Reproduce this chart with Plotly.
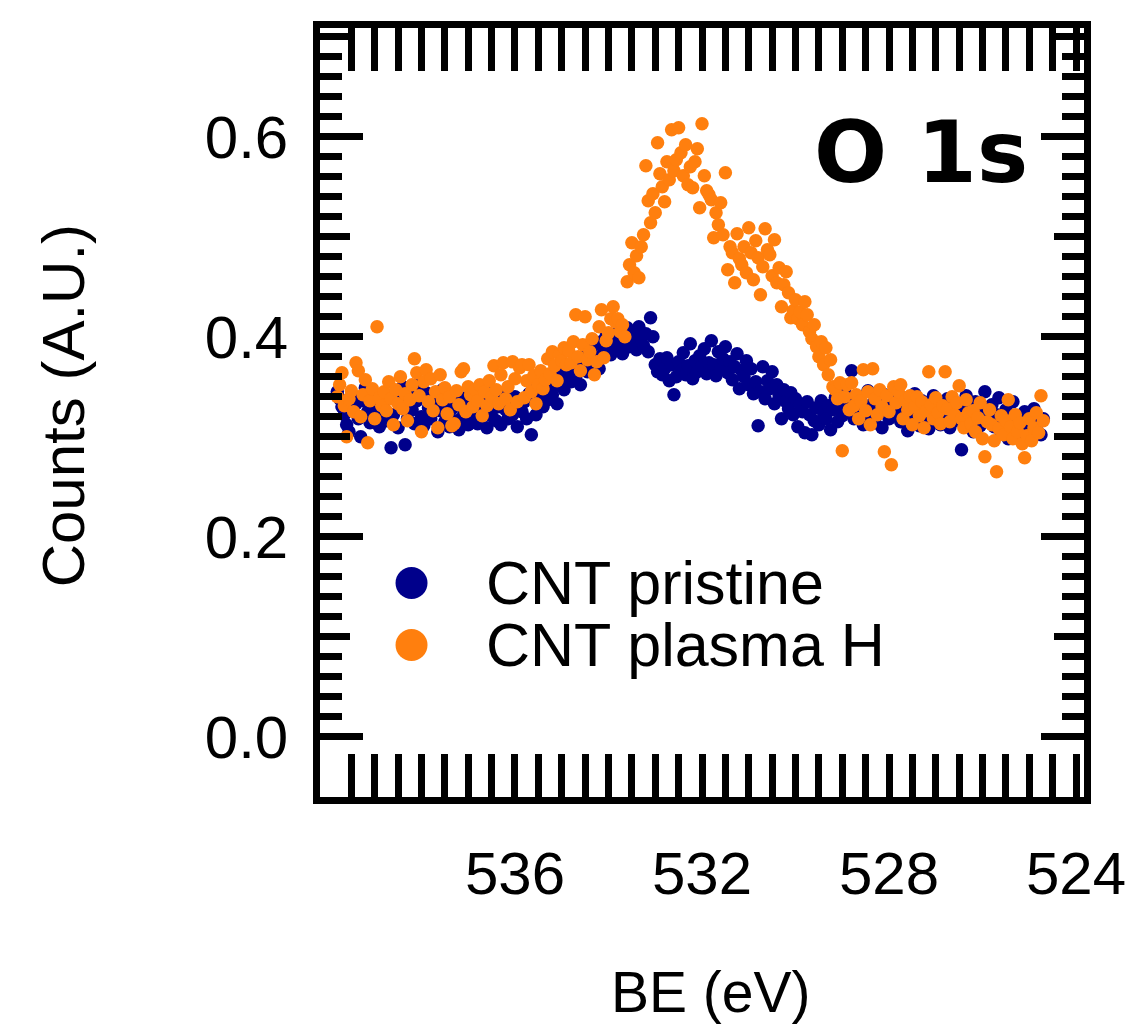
import plotly.graph_objects as go

# Binding-energy grid of the O 1s scans (eV, high -> low)
BE_START = 539.80
BE_STEP = 0.05

# Normalised counts, CNT pristine (one row per eV)
pristine = [
    0.345, 0.338, 0.330, 0.322, 0.312, 0.305, 0.327, 0.340, 0.333, 0.318, 0.300, 0.336, 0.349, 0.325, 0.314, 0.331, 0.343, 0.322, 0.310, 0.334,
    0.328, 0.316, 0.340, 0.289, 0.322, 0.345, 0.309, 0.333, 0.350, 0.292, 0.318, 0.341, 0.327, 0.313, 0.336, 0.352, 0.320, 0.311, 0.344, 0.329,
    0.318, 0.340, 0.333, 0.305, 0.326, 0.347, 0.315, 0.335, 0.310, 0.328, 0.342, 0.316, 0.307, 0.334, 0.322, 0.339, 0.312, 0.330, 0.345, 0.320,
    0.313, 0.333, 0.350, 0.324, 0.309, 0.338, 0.321, 0.346, 0.316, 0.330, 0.312, 0.342, 0.327, 0.318, 0.336, 0.322, 0.340, 0.310, 0.332, 0.325,
    0.335, 0.318, 0.343, 0.302, 0.351, 0.322, 0.339, 0.346, 0.330, 0.355, 0.337, 0.349, 0.342, 0.358, 0.333, 0.352, 0.362, 0.347, 0.356, 0.368,
    0.355, 0.372, 0.360, 0.378, 0.352, 0.369, 0.381, 0.365, 0.388, 0.374, 0.392, 0.379, 0.368, 0.395, 0.385, 0.401, 0.390, 0.382, 0.398, 0.387,
    0.405, 0.394, 0.383, 0.398, 0.409, 0.390, 0.402, 0.396, 0.387, 0.410, 0.398, 0.391, 0.403, 0.385, 0.419, 0.400, 0.372, 0.365, 0.378, 0.362,
    0.368, 0.379, 0.356, 0.372, 0.342, 0.360, 0.375, 0.366, 0.384, 0.362, 0.371, 0.393, 0.358, 0.376, 0.365, 0.381, 0.370, 0.388, 0.363, 0.374,
    0.396, 0.372, 0.361, 0.385, 0.367, 0.378, 0.390, 0.364, 0.375, 0.357, 0.370, 0.383, 0.348, 0.366, 0.360, 0.376, 0.352, 0.368, 0.343, 0.355,
    0.311, 0.345, 0.370, 0.338, 0.356, 0.348, 0.365, 0.333, 0.352, 0.341, 0.318, 0.347, 0.335, 0.328, 0.344, 0.322, 0.338, 0.310, 0.332, 0.325,
    0.304, 0.335, 0.322, 0.302, 0.316, 0.329, 0.312, 0.336, 0.324, 0.318, 0.331, 0.307, 0.327, 0.339, 0.315, 0.333, 0.321, 0.345, 0.326, 0.337,
    0.366, 0.318, 0.341, 0.324, 0.335, 0.312, 0.328, 0.346, 0.320, 0.333, 0.314, 0.338, 0.325, 0.309, 0.342, 0.331, 0.318, 0.336, 0.322, 0.340,
    0.327, 0.315, 0.339, 0.322, 0.306, 0.334, 0.318, 0.343, 0.325, 0.311, 0.336, 0.320, 0.330, 0.308, 0.326, 0.341, 0.317, 0.329, 0.312, 0.335,
    0.321, 0.338, 0.309, 0.326, 0.316, 0.333, 0.318, 0.287, 0.328, 0.341, 0.314, 0.324, 0.305, 0.335, 0.320, 0.311, 0.330, 0.345, 0.316, 0.326,
    0.332, 0.310, 0.322, 0.339, 0.305, 0.318, 0.327, 0.298, 0.314, 0.335, 0.320, 0.308, 0.316, 0.296, 0.325, 0.312, 0.303, 0.319, 0.328, 0.307,
    0.315, 0.302, 0.318,
]

# Normalised counts, CNT after H plasma (one row per eV)
plasma_h = [
    0.340, 0.352, 0.364, 0.331, 0.300, 0.338, 0.346, 0.325, 0.374, 0.366, 0.320, 0.342, 0.357, 0.294, 0.336, 0.348, 0.318, 0.410, 0.339, 0.331,
    0.345, 0.326, 0.355, 0.338, 0.312, 0.347, 0.333, 0.360, 0.328, 0.343, 0.316, 0.337, 0.352, 0.378, 0.364, 0.341, 0.305, 0.355, 0.367, 0.335,
    0.358, 0.326, 0.345, 0.309, 0.362, 0.337, 0.349, 0.323, 0.340, 0.311, 0.313, 0.346, 0.332, 0.365, 0.368, 0.325, 0.350, 0.342, 0.330, 0.347,
    0.336, 0.352, 0.321, 0.345, 0.331, 0.356, 0.340, 0.371, 0.347, 0.333, 0.362, 0.374, 0.338, 0.350, 0.327, 0.375, 0.358, 0.335, 0.369, 0.372,
    0.339, 0.356, 0.372, 0.345, 0.361, 0.333, 0.352, 0.366, 0.348, 0.357, 0.378, 0.363, 0.385, 0.371, 0.356, 0.382, 0.376, 0.389, 0.372, 0.386,
    0.374, 0.395, 0.422, 0.380, 0.366, 0.392, 0.420, 0.377, 0.385, 0.398, 0.362, 0.375, 0.410, 0.427, 0.379, 0.396, 0.404, 0.418, 0.430, 0.415,
    0.418, 0.405, 0.412, 0.400, 0.455, 0.472, 0.494, 0.464, 0.481, 0.459, 0.490, 0.502, 0.571, 0.536, 0.514, 0.543, 0.524, 0.594, 0.563, 0.550,
    0.535, 0.575, 0.557, 0.607, 0.566, 0.577, 0.609, 0.584, 0.561, 0.592, 0.552, 0.570, 0.549, 0.575, 0.588, 0.529, 0.613, 0.561, 0.546, 0.542,
    0.537, 0.499, 0.524, 0.512, 0.534, 0.502, 0.564, 0.467, 0.490, 0.484, 0.454, 0.503, 0.478, 0.472, 0.490, 0.464, 0.509, 0.484, 0.457, 0.496,
    0.479, 0.442, 0.470, 0.508, 0.487, 0.482, 0.461, 0.497, 0.454, 0.469, 0.430, 0.452, 0.465, 0.444, 0.419, 0.426, 0.437, 0.418, 0.425, 0.412,
    0.435, 0.422, 0.405, 0.398, 0.412, 0.390, 0.380, 0.395, 0.372, 0.389, 0.362, 0.377, 0.350, 0.347, 0.338, 0.354, 0.286, 0.340, 0.352, 0.327,
    0.354, 0.331, 0.342, 0.318, 0.336, 0.367, 0.326, 0.345, 0.312, 0.368, 0.338, 0.322, 0.347, 0.330, 0.285, 0.341, 0.325, 0.272, 0.350, 0.334,
    0.345, 0.352, 0.318, 0.336, 0.327, 0.341, 0.312, 0.330, 0.340, 0.321, 0.335, 0.309, 0.326, 0.365, 0.332, 0.318, 0.339, 0.324, 0.313, 0.331,
    0.365, 0.328, 0.315, 0.340, 0.322, 0.334, 0.351, 0.318, 0.309, 0.337, 0.324, 0.313, 0.326, 0.305, 0.319, 0.334, 0.298, 0.280, 0.315, 0.327,
    0.312, 0.296, 0.265, 0.308, 0.321, 0.302, 0.316, 0.337, 0.310, 0.298, 0.322, 0.305, 0.314, 0.293, 0.279, 0.301, 0.318, 0.296, 0.309, 0.324,
    0.304, 0.341, 0.316,
]

series_names = ["CNT pristine", "CNT plasma H"]
series_colors = ["#00008B", "#FF7F0E"]

x_major = [536, 532, 528, 524]
x_major_text = ["536", "532", "528", "524"]
y_major = [0.0, 0.2, 0.4, 0.6]
y_major_text = ["0.0", "0.2", "0.4", "0.6"]
y_mid = [0.1, 0.3, 0.5, 0.7]

assert len(pristine) == len(plasma_h)
be = [round(BE_START - i * BE_STEP, 2) for i in range(len(pristine))]

x_minor = [round(539.5 - 0.5 * i, 1) for i in range(31)]
y_minor = [round(0.02 * i, 2) for i in range(36)]

W, H = 1138, 1025
ML, MR, MT, MB = 320, 50, 28, 228
PW, PH = W - ML - MR, H - MT - MB


def px(x):
    return (x - ML) / PW


def py(y):
    return (H - MB - y) / PH


FONT = "Liberation Sans, Arial, Helvetica, sans-serif"
LW = 6.5

fig = go.Figure()
for vals, name, col in zip([pristine, plasma_h], series_names, series_colors):
    fig.add_trace(go.Scatter(
        x=be, y=vals, mode="markers", name=name,
        marker=dict(size=13.5, color=col, line=dict(width=0)),
        showlegend=False,
    ))

axis_common = dict(
    showline=True, linewidth=LW, linecolor="black", mirror="allticks",
    ticks="inside", tickwidth=LW, tickcolor="black",
    showgrid=False, zeroline=False,
    tickfont=dict(family=FONT, size=60, color="black"),
)

fig.update_layout(
    width=W, height=H,
    margin=dict(l=ML, r=MR, t=MT, b=MB, pad=0),
    paper_bgcolor="white", plot_bgcolor="white",
    showlegend=False,
    xaxis=dict(
        range=[540.17, 523.83], tickmode="array", tickvals=x_major, ticktext=x_major_text,
        ticklen=43, ticklabelstandoff=18,
        minor=dict(tickmode="array", tickvals=x_minor, ticks="inside", ticklen=22,
                   tickwidth=LW, tickcolor="black", showgrid=False),
        **axis_common,
    ),
    yaxis=dict(
        range=[-0.060, 0.7086], tickmode="array", tickvals=y_major, ticktext=y_major_text,
        ticklen=43, ticklabelstandoff=13,
        minor=dict(tickmode="array", tickvals=y_minor, ticks="inside", ticklen=22,
                   tickwidth=LW, tickcolor="black", showgrid=False),
        **axis_common,
    ),
    yaxis2=dict(
        overlaying="y", side="left", range=[-0.060, 0.7086],
        tickmode="array", tickvals=y_mid, showticklabels=False,
        showline=True, linewidth=LW, linecolor="black", mirror="allticks",
        ticks="inside", ticklen=30, tickwidth=LW, tickcolor="black",
        showgrid=False, zeroline=False,
    ),
)

# empty trace so the mid-tick axis is drawn
fig.add_trace(go.Scatter(x=[], y=[], yaxis="y2", showlegend=False, hoverinfo="skip"))

# axis titles
fig.add_annotation(text="Counts (A.U.)", x=px(62), y=py(406), xref="paper", yref="paper",
                   textangle=-90, showarrow=False, xanchor="center", yanchor="middle",
                   font=dict(family=FONT, size=60, color="black"))
fig.add_annotation(text="BE (eV)", x=px(713), y=py(992), xref="paper", yref="paper",
                   showarrow=False, xanchor="center", yanchor="middle",
                   font=dict(family=FONT, size=57, color="black"))

# panel label
fig.add_annotation(text="O 1s", x=px(1034), y=py(152), xref="paper", yref="paper",
                   showarrow=False, xanchor="right", yanchor="middle",
                   font=dict(family="DejaVu Sans, sans-serif", size=86, color="black",
                             weight="bold"))

# legend (large round keys)
for i, (name, col) in enumerate(zip(series_names, series_colors)):
    cy = 583 + 62 * i
    fig.add_shape(type="circle", xref="paper", yref="paper",
                  xsizemode="pixel", ysizemode="pixel",
                  xanchor=px(412), yanchor=py(cy), x0=-16, x1=16, y0=-16, y1=16,
                  fillcolor=col, line=dict(width=0))
    fig.add_annotation(text=name, x=px(485), y=py(cy), xref="paper", yref="paper",
                       showarrow=False, xanchor="left", yanchor="middle",
                       font=dict(family=FONT, size=61, color="black"))

fig.write_html("out.html")
